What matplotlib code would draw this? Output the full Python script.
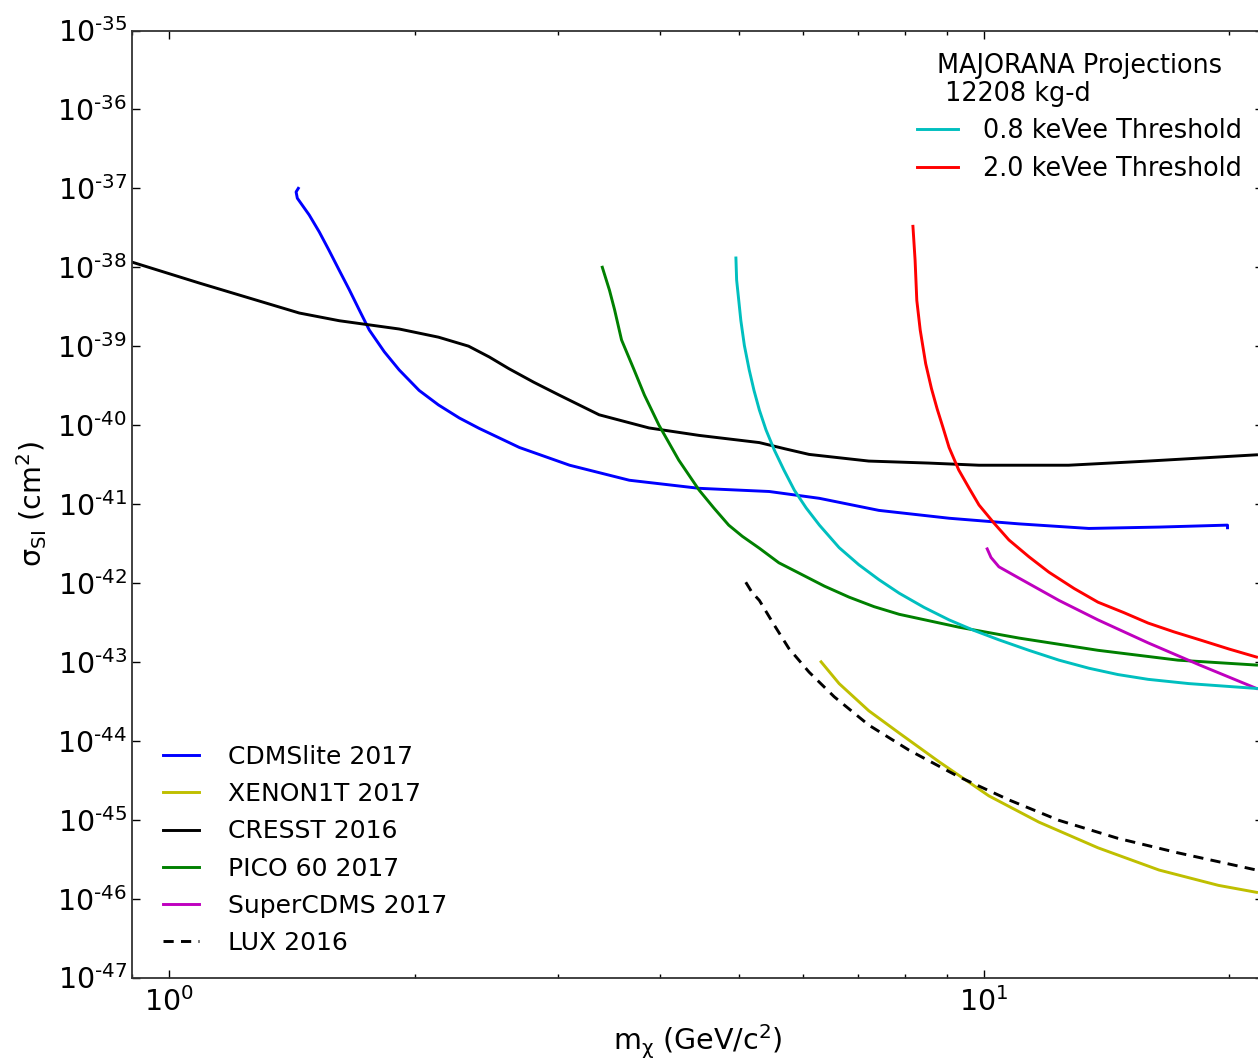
import numpy as np
import matplotlib
matplotlib.use("Agg")
import matplotlib.pyplot as plt
from matplotlib.ticker import NullLocator, FuncFormatter

# ---------------------------------------------------------------- data
# masses in GeV/c^2, cross sections in cm^2
cresst_m = [0.898, 1.089, 1.254, 1.444, 1.617, 1.915, 2.14, 2.33, 2.47, 2.61, 2.80, 3.01,
            3.37, 3.88, 4.47, 5.30, 5.70, 6.10, 7.22, 8.56, 9.86, 12.7, 15.9, 21.6]
cresst_s = [1.17e-38, 6.3e-39, 4.07e-39, 2.63e-39, 2.1e-39, 1.65e-39, 1.3e-39, 1.0e-39,
            7.3e-40, 5.2e-40, 3.5e-40, 2.4e-40, 1.35e-40, 9.2e-41, 7.4e-41, 6.0e-41,
            5.0e-41, 4.25e-41, 3.5e-41, 3.3e-41, 3.1e-41, 3.1e-41, 3.5e-41, 4.2e-41]

cdmslite_m = [1.440, 1.431, 1.436, 1.485, 1.528, 1.57, 1.617, 1.663, 1.71, 1.76, 1.836,
              1.915, 2.026, 2.14, 2.27, 2.40, 2.69, 3.10, 3.67, 4.47, 5.45, 6.28, 7.43,
              9.06, 11.04, 13.45, 16.4, 19.9, 19.9]
cdmslite_s = [1.0e-37, 9.0e-38, 7.5e-38, 4.6e-38, 2.8e-38, 1.65e-38, 9.1e-39, 5.2e-39,
              2.9e-39, 1.6e-39, 8.5e-40, 5.0e-40, 2.75e-40, 1.8e-40, 1.23e-40, 9.1e-41,
              5.2e-41, 3.1e-41, 2.0e-41, 1.58e-41, 1.44e-41, 1.18e-41, 8.3e-42, 6.6e-42,
              5.6e-42, 4.9e-42, 5.1e-42, 5.4e-42, 5.0e-42]

pico_m = [3.40, 3.47, 3.52, 3.59, 3.72, 3.83, 3.99, 4.22, 4.47, 4.66, 4.86, 5.05, 5.30,
          5.60, 5.93, 6.37, 6.83, 7.33, 7.87, 9.31, 11.04, 13.8, 17.3, 21.6]
pico_s = [1.0e-38, 5.1e-39, 2.9e-39, 1.2e-39, 5.0e-40, 2.4e-40, 1.0e-40, 3.6e-41, 1.5e-41,
          8.9e-42, 5.4e-42, 3.9e-42, 2.75e-42, 1.8e-42, 1.33e-42, 9.1e-43, 6.6e-43,
          5.0e-43, 4.0e-43, 2.75e-43, 2.0e-43, 1.4e-43, 1.05e-43, 9.1e-44]

xenon_m = [6.31, 6.64, 7.22, 7.87, 8.81, 10.14, 11.68, 13.8, 16.4, 19.4, 21.6]
xenon_s = [1.0e-43, 5.3e-44, 2.4e-44, 1.25e-44, 5.4e-45, 2.0e-45, 9.3e-46, 4.4e-46,
           2.3e-46, 1.47e-46, 1.2e-46]

supercdms_m = [10.09, 10.20, 10.43, 11.04, 12.36, 13.8, 15.9, 18.4, 21.6]
supercdms_s = [2.7e-42, 2.1e-42, 1.6e-42, 1.15e-42, 6.0e-43, 3.4e-43, 1.74e-43, 9.1e-44, 4.6e-44]

lux_m = [5.10, 5.19, 5.30, 5.53, 5.76, 6.10, 6.55, 7.22, 8.09, 9.31, 10.73, 12.36, 14.6,
         17.3, 21.6]
lux_s = [1.02e-42, 7.6e-43, 6.0e-43, 2.9e-43, 1.48e-43, 7.4e-44, 3.6e-44, 1.58e-44,
         7.6e-45, 3.5e-45, 1.78e-45, 9.8e-46, 5.8e-46, 3.8e-46, 2.3e-46]

mj08_m = [4.96, 4.97, 5.03, 5.08, 5.15, 5.22, 5.30, 5.40, 5.53, 5.68, 5.85, 6.05, 6.28,
          6.64, 7.02, 7.43, 7.87, 8.44, 9.06, 9.72, 10.43, 11.35, 12.36, 13.45, 14.6,
          15.9, 17.84, 21.6]
mj08_s = [1.31e-38, 6.9e-39, 2.1e-39, 1.02e-39, 5.0e-40, 2.75e-40, 1.55e-40, 8.7e-41,
          4.8e-41, 2.7e-41, 1.5e-41, 8.9e-42, 5.4e-42, 2.8e-42, 1.7e-42, 1.1e-42, 7.4e-43,
          4.9e-43, 3.4e-43, 2.5e-43, 1.9e-43, 1.4e-43, 1.05e-43, 8.3e-44, 6.9e-44, 6.0e-44,
          5.3e-44, 4.6e-44]

mj20_m = [8.18, 8.23, 8.27, 8.35, 8.48, 8.62, 8.76, 8.90, 9.06, 9.31, 9.59, 9.86,
          10.29, 10.73, 11.35, 12.01, 12.9, 13.8, 14.85, 15.9, 17.1, 18.4, 20.0, 21.6]
mj20_s = [3.3e-38, 1.23e-38, 3.8e-39, 1.6e-39, 6.0e-40, 2.9e-40, 1.6e-40, 9.5e-41,
          5.2e-41, 2.7e-41, 1.58e-41, 9.7e-42, 5.7e-42, 3.5e-42, 2.15e-42, 1.37e-42,
          8.5e-43, 5.7e-43, 4.2e-43, 3.1e-43, 2.4e-43, 1.9e-43, 1.45e-43, 1.15e-43]

ytick_exp = list(range(-47, -34))

# ---------------------------------------------------------------- plot
plt.rcParams['font.family'] = ['DejaVu Sans']
plt.rcParams['mathtext.default'] = 'regular'


def log_label(v, pos):
    # old-style label with a short hyphen in the exponent
    e = int(round(np.log10(v)))
    return r'$10^{%s}$' % (str(e).replace('-', '\u2010'))


fig = plt.figure(figsize=(12.58, 10.61), dpi=100)
ax = fig.add_axes([132/1258, 1 - 977.5/1061, 1131/1258, 947/1061])

lw = 2.1
l_cdms, = ax.plot(cdmslite_m, cdmslite_s, color='b', lw=lw, label='CDMSlite 2017')
l_xen, = ax.plot(xenon_m, xenon_s, color=(0.75, 0.75, 0), lw=lw, label='XENON1T 2017')
l_cre, = ax.plot(cresst_m, cresst_s, color='k', lw=lw, label='CRESST 2016')
l_pico, = ax.plot(pico_m, pico_s, color=(0, 0.5, 0), lw=lw, label='PICO 60 2017')
l_scdms, = ax.plot(supercdms_m, supercdms_s, color=(0.75, 0, 0.75), lw=lw, label='SuperCDMS 2017')
l_lux, = ax.plot(lux_m, lux_s, color='k', lw=lw, ls=(0, (3.5, 2.5)), label='LUX 2016')
l_08, = ax.plot(mj08_m, mj08_s, color=(0, 0.75, 0.75), lw=lw, label='0.8 keVee Threshold')
l_20, = ax.plot(mj20_m, mj20_s, color='r', lw=lw, label='2.0 keVee Threshold')

ax.set_xscale('log')
ax.set_yscale('log')
ax.set_xlim(0.9, 22)
ax.set_ylim(1e-47, 1e-35)
ax.set_yticks([10.0**e for e in ytick_exp])
ax.yaxis.set_minor_locator(NullLocator())
ax.yaxis.set_major_formatter(FuncFormatter(log_label))
ax.tick_params(which='both', direction='in', top=True, right=True, labelsize=20.5)
ax.tick_params(which='major', length=5.5, width=1)
ax.tick_params(which='minor', length=3, width=1)
ax.tick_params(axis='x', pad=7)
for sp in ax.spines.values():
    sp.set_linewidth(1.3)
    sp.set_color('#333333')

ax.set_xlabel(r'm$_\chi$ (GeV/c$^2$)', fontsize=20.5)
ax.set_ylabel(r'σ$_{SI}$ (cm$^2$)', fontsize=20.5, labelpad=6)

leg1 = ax.legend(handles=[l_cdms, l_xen, l_cre, l_pico, l_scdms, l_lux],
                 loc='lower left', frameon=False, fontsize=18, handlelength=1.45,
                 handletextpad=1.15, labelspacing=0.53, bbox_to_anchor=(0.0073, 0.0))
ax.add_artist(leg1)
leg2 = ax.legend(handles=[l_08, l_20], loc='upper right', frameon=False, fontsize=18.4,
                 title='MAJORANA Projections\n 12208 kg-d', title_fontsize=18.4,
                 handlelength=1.6, handletextpad=1.0, labelspacing=0.45,
                 bbox_to_anchor=(1.002, 1.001))
leg2.get_title().set_multialignment('left')
leg2.get_title().set_linespacing(1.1)

fig.savefig('out.png', dpi=100)
